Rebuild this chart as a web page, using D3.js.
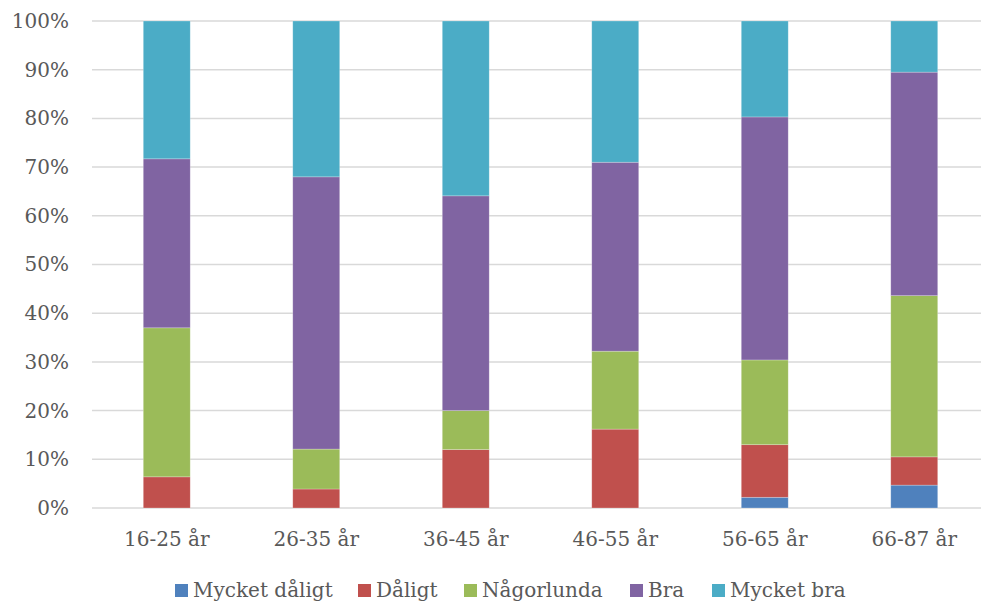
<!DOCTYPE html>
<html><head><meta charset="utf-8">
<script src="https://cdn.jsdelivr.net/npm/d3@7"></script>
<style>body{margin:0;background:#fff}svg{display:block}</style>
</head><body>
<svg id="c" width="981" height="603"></svg>
<script>
const categories = ["16-25 år","26-35 år","36-45 år","46-55 år","56-65 år","66-87 år"];
const seriesNames = ["Mycket dåligt","Dåligt","Någorlunda","Bra","Mycket bra"];
const mycketDaligt = [0, 0, 0, 0, 2.2, 4.7];
const daligt       = [6.4, 3.9, 12.0, 16.2, 10.8, 5.8];
const nagorlunda   = [30.6, 8.2, 8.0, 16.0, 17.4, 33.1];
const bra          = [34.7, 55.9, 44.1, 38.8, 49.9, 45.9];
const mycketBra    = [28.3, 32.0, 35.9, 29.0, 19.7, 10.5];
const yTicks = [0,0.1,0.2,0.3,0.4,0.5,0.6,0.7,0.8,0.9,1.0];
const colors = ["#4F81BD","#C0504D","#9BBB59","#8064A2","#4BACC6"];

const allSeries = [mycketDaligt, daligt, nagorlunda, bra, mycketBra];
const rows = categories.map((c,i)=>{
  const r = {cat:c};
  seriesNames.forEach((s,j)=> r[s]=allSeries[j][i]);
  return r;
});
const stacked = d3.stack().keys(seriesNames).offset(d3.stackOffsetExpand)(rows);

const svg = d3.select("#c");
const font = "'DejaVu Serif', serif";
const txt = "#595959";
const x = d3.scaleBand().domain(categories).range([92, 989]).paddingInner(0.686).paddingOuter(0.343);
const y = d3.scaleLinear().domain([0,1]).range([508, 21]);

// gridlines
svg.append("g").selectAll("line").data(yTicks).join("line")
  .attr("x1", 92).attr("x2", 989)
  .attr("y1", d=>y(d)).attr("y2", d=>y(d))
  .attr("stroke", "#d9d9d9").attr("stroke-width", 1.5);

// y axis labels
const yAxis = d3.axisLeft(y).tickValues(yTicks).tickFormat(d3.format(".0%")).tickSize(0).tickPadding(0);
const gy = svg.append("g").attr("transform","translate(69,0)").call(yAxis);
gy.select(".domain").remove();
gy.selectAll("text").attr("font-family", font).attr("font-size", 20).attr("fill", txt);

// bars
svg.append("g").selectAll("g").data(stacked).join("g")
  .attr("fill", (d,i)=>colors[i])
  .selectAll("rect").data(d=>d).join("rect")
  .attr("x", d=>x(d.data.cat))
  .attr("width", x.bandwidth())
  .attr("y", d=>y(d[1]))
  .attr("height", d=>Math.max(0, y(d[0])-y(d[1])))
  .attr("stroke", "rgba(255,255,255,0.35)").attr("stroke-width", 0.7);

// x axis labels
const xAxis = d3.axisBottom(x).tickSize(0).tickPadding(0);
const gx = svg.append("g").attr("transform","translate(0,531)").call(xAxis);
gx.select(".domain").remove();
gx.selectAll("text").attr("font-family", font).attr("font-size", 20).attr("fill", txt).attr("dy", null).attr("y", 15);

// legend
const legendX = [175, 358, 464, 630, 712];
const lg = svg.append("g");
seriesNames.forEach((s,i)=>{
  lg.append("rect").attr("x", legendX[i]).attr("y", 584).attr("width", 13).attr("height", 13).attr("fill", colors[i]);
  lg.append("text").attr("x", legendX[i]+18).attr("y", 597)
    .attr("font-family", font).attr("font-size", 20).attr("fill", txt).text(s);
});
</script>
</body></html>
